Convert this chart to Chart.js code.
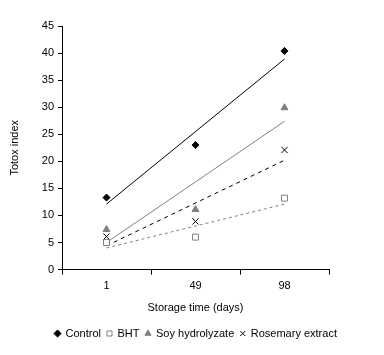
<!DOCTYPE html>
<html><head><meta charset="utf-8">
<script src="https://cdn.jsdelivr.net/npm/chart.js@4/dist/chart.umd.min.js"></script>
<style>html,body{margin:0;padding:0;background:#fff}#wrap{width:384px;height:355px}</style>
</head><body><div id="wrap"><canvas id="c" width="384" height="355"></canvas></div>
<script>
const categories = ['1', '49', '98'];
const control = [13.3, 23.0, 40.4];
const bht = [5.0, 6.0, 13.2];
const soy = [7.4, 11.1, 29.9];
const rosemary = [6.1, 8.9, 22.1];
// trendline end values (at day 1 and day 98)
const controlTrend = [12.1, 38.9];
const bhtTrend = [4.0, 12.1];
const soyTrend = [5.0, 27.4];
const rosemaryTrend = [4.4, 20.2];
const yTicks = [0, 5, 10, 15, 20, 25, 30, 35, 40, 45];

const FONT = 'Liberation Sans, Arial, sans-serif';
Chart.defaults.font.family = FONT;
Chart.defaults.font.size = 11;
Chart.defaults.color = '#000';

function trend(vals) {
  return [{x: categories[0], y: vals[0]}, {x: categories[categories.length - 1], y: vals[1]}];
}
function pts(label, data, style, radius, bg, border) {
  return {type: 'line', label, data, showLine: false, pointStyle: style, pointRadius: radius,
    pointHoverRadius: radius, pointBackgroundColor: bg, pointBorderColor: border, pointBorderWidth: 1,
    backgroundColor: bg, borderColor: border, borderWidth: 1, yAxisID: 'y'};
}
function tl(vals, color, dash) {
  return {type: 'line', label: '_trend', data: trend(vals), borderColor: color, borderWidth: 1,
    borderDash: dash, pointRadius: 0, fill: false, tension: 0, yAxisID: 'y'};
}

new Chart(document.getElementById('c'), {
  type: 'line',
  data: {
    labels: categories,
    datasets: [
      pts('Control', control, 'rectRot', 3.5, '#000', '#000'),
      pts('BHT', bht, 'rect', 4.2, '#fff', '#808080'),
      pts('Soy hydrolyzate', soy, 'triangle', 4, '#808080', '#808080'),
      pts('Rosemary extract', rosemary, 'crossRot', 4.5, '#000', '#000'),
      tl(controlTrend, '#000', []),
      tl(bhtTrend, '#808080', [3, 3]),
      tl(soyTrend, '#808080', []),
      tl(rosemaryTrend, '#000', [4, 4])
    ]
  },
  options: {
    responsive: false,
    animation: false,
    devicePixelRatio: 1,
    layout: {padding: {top: 26, right: 0, left: 8, bottom: 6}},
    plugins: {
      tooltip: {enabled: false},
      legend: {
        position: 'bottom',
        labels: {
          usePointStyle: true, boxWidth: 5, boxHeight: 5, padding: 6,
          font: {family: FONT, size: 11},
          filter: item => item.text !== '_trend'
        }
      }
    },
    scales: {
      x: {
        type: 'category',
        offset: true,
        grid: {display: true, drawOnChartArea: false, offset: true, drawTicks: true, tickLength: 5, color: '#000'},
        border: {display: true, color: '#000', width: 1},
        ticks: {padding: 5, font: {family: FONT, size: 11}},
        title: {display: true, text: 'Storage time (days)', font: {family: FONT, size: 11}, padding: {top: 4, bottom: 7}}
      },
      y: {
        min: 0, max: 45,
        afterBuildTicks: s => { s.ticks = yTicks.map(v => ({value: v})); },
        afterFit: s => { s.width = 54; },
        grid: {display: true, drawOnChartArea: false, drawTicks: true, tickLength: 4, color: '#000'},
        border: {display: true, color: '#000', width: 1},
        ticks: {padding: 4, font: {family: FONT, size: 11}},
        title: {display: true, text: 'Totox index', font: {family: FONT, size: 11}, padding: {top: 0, bottom: 6}}
      },
      yRight: {
        position: 'right',
        display: true,
        min: 0, max: 45,
        afterFit: s => { s.width = 55; },
        grid: {display: false},
        border: {display: false},
        ticks: {display: false}
      }
    }
  }
});
</script></body></html>
